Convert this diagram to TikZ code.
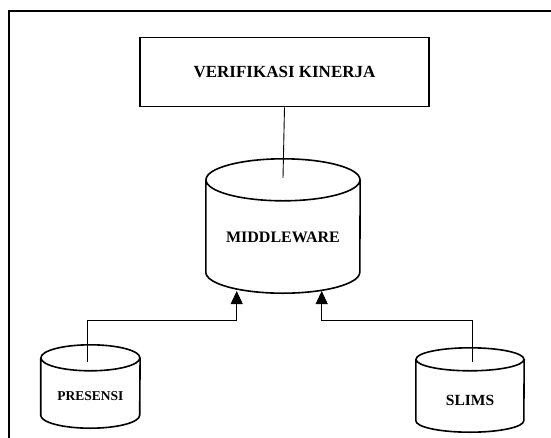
\documentclass[tikz,border=0pt]{standalone}
\usepackage{fontspec}
\setmainfont{Liberation Serif}
\usetikzlibrary{arrows.meta,positioning}

\begin{document}
\begin{tikzpicture}[
  x=1pt, y=-1pt,
  font=\bfseries,
  box/.style={draw, line width=1.6pt, minimum width=289pt, minimum height=69pt, inner sep=0pt},
  db/.style={rectangle, inner sep=0pt},
  dbline/.style={line width=1.6pt},
  arr/.style={-{Triangle[width=12pt,length=13pt]}, line width=0.9pt},
  link/.style={line width=0.9pt}
]
\useasboundingbox (0,0) rectangle (551,437);
\draw[line width=1.8pt] (560,11) -| (9,445);
\node[box, font=\bfseries\fontsize{17}{20}\selectfont] (verif) at (284.5,72) {VERIFIKASI KINERJA};
\node[db, minimum width=154pt, minimum height=134pt,
  label={[font=\bfseries\fontsize{16}{19}\selectfont, yshift=-11pt]center:MIDDLEWARE}] (mw) at (283,226) {};
\node[db, minimum width=99pt, minimum height=83pt,
  label={[font=\bfseries\fontsize{13.5}{16}\selectfont, yshift=-10pt]center:PRESENSI}] (pre) at (90.4,386.5) {};
\node[db, minimum width=108pt, minimum height=84pt,
  label={[font=\bfseries\fontsize{15.5}{18}\selectfont, yshift=-10pt]center:SLIMS}] (slims) at (470,390) {};
% cylinder outlines
\foreach \n/\rx/\ry in {mw/77/21, pre/49.5/13, slims/54/11.5}
  \draw[dbline] ([yshift=-\ry pt]\n.north west) -- ([yshift=\ry pt]\n.south west)
    arc[start angle=180, end angle=360, x radius=\rx pt, y radius=\ry pt]
    -- ([yshift=-\ry pt]\n.north east)
    ([yshift=-\ry pt]\n.north) ellipse[x radius=\rx pt, y radius=\ry pt];
\coordinate (mwL) at (236.7,291);
\coordinate (mwR) at (321.7,291);
\coordinate (jL) at (236.7,320);
\coordinate (jR) at (321.7,320);
\draw[link] (verif.south) -- ([yshift=-19pt]mw.north);
\draw[arr] ([xshift=-2.7pt,yshift=-17pt]pre.north) |- (jL) -- (mwL);
\draw[arr] ([xshift=2pt,yshift=-14pt]slims.north) |- (jR) -- (mwR);
\end{tikzpicture}
\end{document}
